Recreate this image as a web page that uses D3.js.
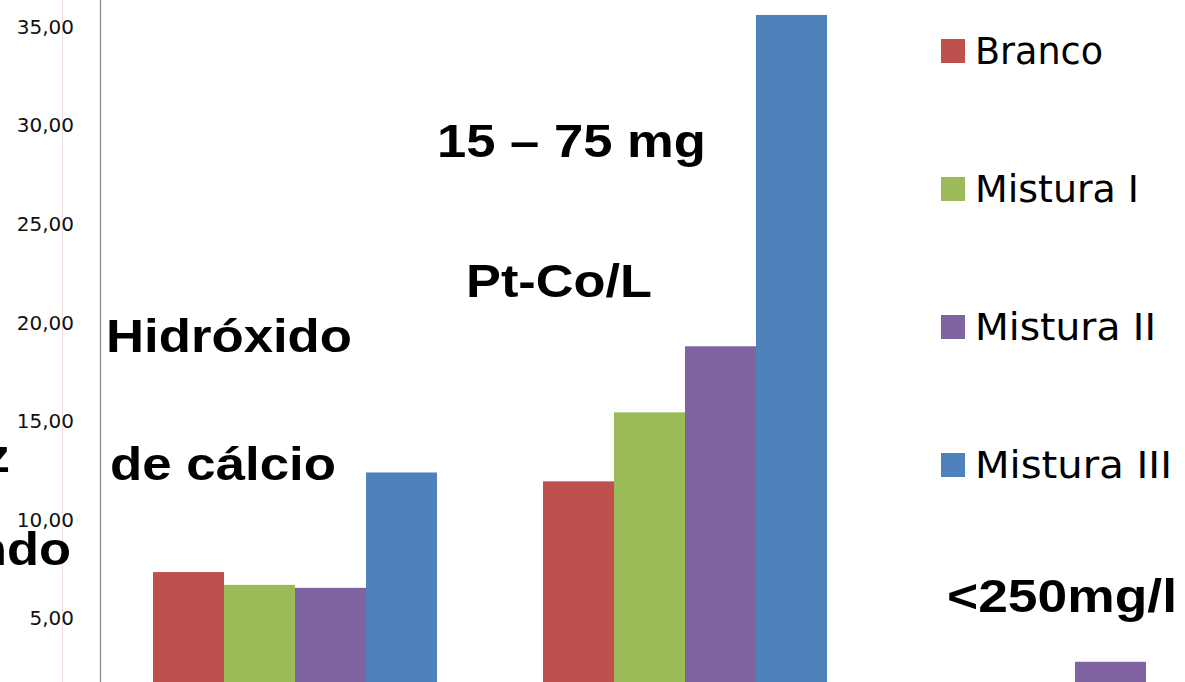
<!DOCTYPE html>
<html>
<head>
<meta charset="utf-8">
<script src="https://cdn.jsdelivr.net/npm/d3@7"></script>
<style>
  html, body { margin: 0; padding: 0; background: #fff; overflow: hidden; }
  svg { display: block; }
</style>
</head>
<body>
<svg id="chart" width="1185" height="682"></svg>
<script>
// ---- data ----
const categories = ["Hidróxido de cálcio", "Cor", "Cloretos"];
const series = ["Branco", "Mistura I", "Mistura II", "Mistura III"];
const colors = ["#C0504D", "#9BBB59", "#8064A2", "#4F81BD"];
// values per series, one per category (null = not visible in picture)
const branco     = [7.35, 11.95, null];
const misturaI   = [6.7, 15.45, null];
const misturaII  = [6.55, 18.8, 2.8];
const misturaIII = [12.4, 35.6, null];
const seriesValues = [branco, misturaI, misturaII, misturaIII];
const yTicks = [5, 10, 15, 20, 25, 30, 35];

// annotations (bold overlay texts from the slide)
const notes = [
  {text: "15 – 75 mg", x: 437, y: 157, w: 269},
  {text: "Pt-Co/L", x: 466, y: 297, w: 186},
  {text: "Hidróxido", x: 106, y: 352, w: 246},
  {text: "de cálcio", x: 110, y: 480, w: 226},
  {text: "<250mg/l", x: 947, y: 612, w: 230}
];
const cutNotes = [
  {text: "z", xEnd: 10, y: 472},
  {text: "ndo", xEnd: 71, y: 565}
];

// ---- drawing ----
const svg = d3.select("#chart");
const W = 1185, H = 682;

const y = d3.scaleLinear().domain([0, 35]).range([717, 26.8]);
const x0 = d3.scaleBand().domain(categories).range([100, 1270])
  .paddingInner(0.2718).paddingOuter(0.1359);
const x1 = d3.scaleBand().domain(series).range([0, x0.bandwidth()]).padding(0);

// faint line
svg.append("line").attr("x1", 62.5).attr("x2", 62.5).attr("y1", 0).attr("y2", H)
  .attr("stroke", "#efdcdc").attr("stroke-width", 1);

// y axis labels
const loc = d3.formatLocale({decimal: ",", thousands: ".", grouping: [3], currency: ["", ""]});
const fmt = loc.format(".2f");
const axis = svg.append("g").attr("transform", "translate(100,0)")
  .call(d3.axisLeft(y).tickValues(yTicks).tickFormat(fmt).tickSize(0).tickPadding(26));
axis.select(".domain").remove();
axis.selectAll("text").attr("font-family", "DejaVu Sans").attr("font-size", 20).attr("fill", "#111");

// axis line
svg.append("line").attr("x1", 100.5).attr("x2", 100.5).attr("y1", 0).attr("y2", H)
  .attr("stroke", "#8c8c8c").attr("stroke-width", 1.3);

// bars
const groups = svg.append("g").selectAll("g").data(categories).join("g")
  .attr("transform", d => `translate(${x0(d)},0)`);
groups.selectAll("rect")
  .data((c, ci) => series.map((s, si) => ({s, si, v: seriesValues[si][ci]})).filter(d => d.v != null))
  .join("rect")
  .attr("x", d => x1(d.s))
  .attr("width", x1.bandwidth())
  .attr("y", d => y(d.v))
  .attr("height", d => y(0) - y(d.v))
  .attr("fill", d => colors[d.si]);

// annotations
const bold = svg.append("g").attr("font-family", "'Liberation Sans', Arial, sans-serif")
  .attr("font-weight", "bold").attr("font-size", 46).attr("fill", "#000");
bold.selectAll("text.note").data(notes).join("text").attr("class", "note")
  .attr("x", d => d.x).attr("y", d => d.y)
  .attr("textLength", d => d.w).attr("lengthAdjust", "spacingAndGlyphs")
  .text(d => d.text);
bold.selectAll("text.cut").data(cutNotes).join("text").attr("class", "cut")
  .attr("text-anchor", "end")
  .attr("transform", d => `translate(${d.xEnd},${d.y}) scale(1.14,1)`)
  .text(d => d.text);

// legend
const legendBase = [64, 202, 340, 478];
const legendWidths = [128, 164, 181, 197];
const lg = svg.append("g").selectAll("g").data(series).join("g")
  .attr("transform", (d, i) => `translate(941,${legendBase[i]})`);
lg.append("rect").attr("x", 0).attr("y", -25).attr("width", 24).attr("height", 24)
  .attr("fill", (d, i) => colors[i]);
lg.append("text").attr("x", 34).attr("y", 0)
  .attr("font-family", "DejaVu Sans").attr("font-size", 37).attr("fill", "#000")
  .attr("textLength", (d, i) => legendWidths[i]).attr("lengthAdjust", "spacingAndGlyphs")
  .text(d => d);
</script>
</body>
</html>
